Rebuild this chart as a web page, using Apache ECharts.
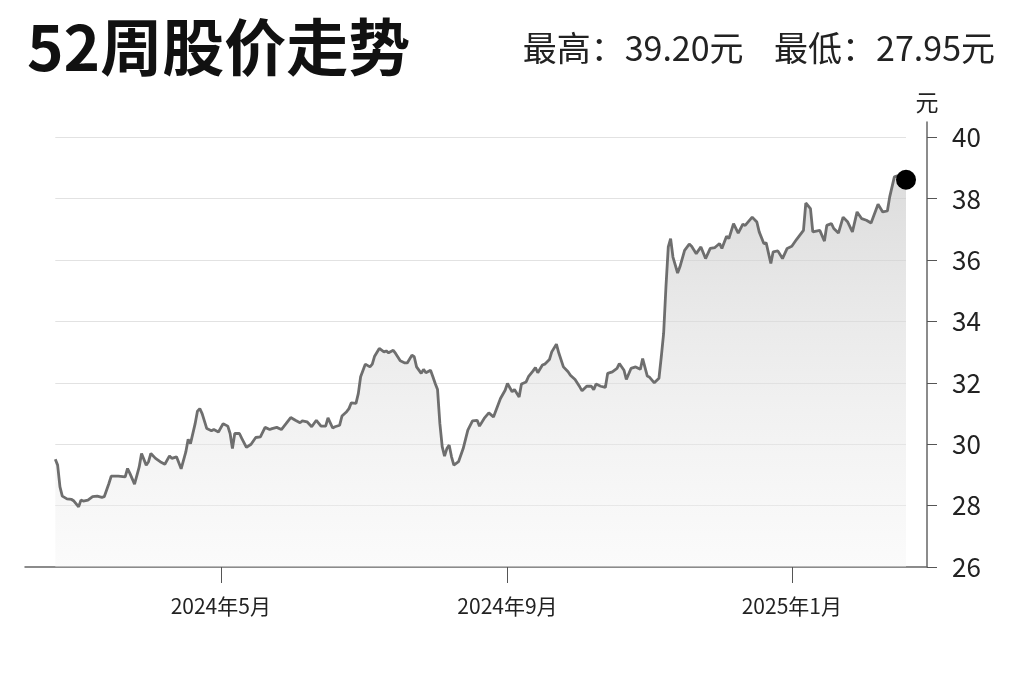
<!DOCTYPE html>
<html>
<head>
<meta charset="utf-8">
<script src="https://cdn.jsdelivr.net/npm/echarts@6/dist/echarts.min.js"></script>
<style>
html,body{margin:0;padding:0;background:#fff;}
#chart{width:1024px;height:682px;}
</style>
</head>
<body>
<div id="chart"></div>
<script>
const titleText = '52周股价走势';
const highPrice = '39.20';
const lowPrice = '27.95';
const unitText = '元';

const dates = [
'2024-02-20','2024-02-21','2024-02-22','2024-02-23','2024-02-25','2024-02-27','2024-02-28','2024-03-01','2024-03-02','2024-03-03',
'2024-03-05','2024-03-07','2024-03-09','2024-03-11','2024-03-12','2024-03-14','2024-03-15','2024-03-18','2024-03-21','2024-03-22',
'2024-03-23','2024-03-25','2024-03-27','2024-03-28','2024-03-30','2024-03-31','2024-04-01','2024-04-03','2024-04-05','2024-04-07',
'2024-04-09','2024-04-10','2024-04-12','2024-04-14','2024-04-16','2024-04-17','2024-04-18','2024-04-20','2024-04-21','2024-04-22',
'2024-04-23','2024-04-25','2024-04-27','2024-04-28','2024-04-30','2024-05-02','2024-05-04','2024-05-05','2024-05-06','2024-05-07',
'2024-05-09','2024-05-10','2024-05-12','2024-05-14','2024-05-16','2024-05-18','2024-05-20','2024-05-22',
'2024-05-23','2024-05-25','2024-05-27','2024-05-29','2024-05-31','2024-06-02','2024-06-04','2024-06-05','2024-06-07','2024-06-09',
'2024-06-11','2024-06-13','2024-06-15','2024-06-16','2024-06-18','2024-06-19','2024-06-21','2024-06-22','2024-06-24','2024-06-25',
'2024-06-26','2024-06-28','2024-06-29','2024-06-30','2024-07-02','2024-07-04','2024-07-05','2024-07-06','2024-07-08','2024-07-10',
'2024-07-11','2024-07-12','2024-07-14','2024-07-15','2024-07-17','2024-07-19','2024-07-20','2024-07-22','2024-07-23','2024-07-24',
'2024-07-26','2024-07-27','2024-07-28','2024-07-30','2024-07-31','2024-08-01','2024-08-02','2024-08-03','2024-08-04','2024-08-05',
'2024-08-06','2024-08-07','2024-08-08','2024-08-09','2024-08-11','2024-08-13','2024-08-15','2024-08-17','2024-08-19','2024-08-20',
'2024-08-22','2024-08-24','2024-08-26',
'2024-08-29','2024-08-31','2024-09-01','2024-09-03','2024-09-04','2024-09-06','2024-09-07','2024-09-09','2024-09-10','2024-09-12',
'2024-09-13','2024-09-14','2024-09-16','2024-09-17','2024-09-19','2024-09-20','2024-09-22','2024-09-23','2024-09-25','2024-09-27',
'2024-09-28','2024-09-30','2024-10-02','2024-10-03','2024-10-05','2024-10-07','2024-10-08','2024-10-09','2024-10-11','2024-10-13',
'2024-10-14','2024-10-16','2024-10-18','2024-10-19','2024-10-21','2024-10-22','2024-10-24','2024-10-26','2024-10-28','2024-10-29',
'2024-10-31','2024-11-01','2024-11-03','2024-11-05','2024-11-06','2024-11-07','2024-11-08','2024-11-09','2024-11-10','2024-11-11',
'2024-11-13','2024-11-14','2024-11-16','2024-11-18','2024-11-19','2024-11-21','2024-11-23','2024-11-25','2024-11-27','2024-11-29',
'2024-12-01','2024-12-02','2024-12-04','2024-12-05','2024-12-07','2024-12-09','2024-12-11','2024-12-12','2024-12-15','2024-12-17',
'2024-12-18','2024-12-20','2024-12-21','2024-12-23','2024-12-24','2024-12-26','2024-12-28','2024-12-30','2025-01-01','2025-01-03',
'2025-01-06','2025-01-07','2025-01-09','2025-01-10','2025-01-13','2025-01-15','2025-01-16','2025-01-18','2025-01-19','2025-01-21',
'2025-01-23','2025-01-25','2025-01-27','2025-01-29','2025-01-31','2025-02-02','2025-02-04','2025-02-07','2025-02-09','2025-02-11',
'2025-02-12','2025-02-14','2025-02-16','2025-02-18','2025-02-19'
];

const prices = [
29.51,29.32,28.61,28.31,28.22,28.20,28.15,27.96,28.18,28.15,
28.18,28.29,28.31,28.27,28.29,28.72,28.96,28.96,28.94,29.21,
29.05,28.70,29.26,29.70,29.32,29.43,29.70,29.54,29.43,29.35,
29.62,29.54,29.59,29.20,29.75,30.16,30.02,30.67,31.08,31.16,
31.00,30.51,30.44,30.48,30.40,30.67,30.59,30.35,29.86,30.35,
30.35,30.19,29.90,30.00,30.22,30.24,30.55,30.48,
30.51,30.55,30.48,30.67,30.87,30.78,30.70,30.76,30.73,30.57,
30.78,30.59,30.59,30.86,30.53,30.57,30.62,30.92,31.06,31.16,
31.35,31.33,31.65,32.20,32.61,32.52,32.61,32.87,33.12,33.01,
33.04,32.98,33.06,32.96,32.72,32.65,32.65,32.90,32.85,32.52,
32.31,32.44,32.33,32.41,32.20,31.98,31.78,30.67,29.92,29.61,
29.86,29.97,29.59,29.32,29.43,29.86,30.46,30.76,30.78,30.59,
30.84,31.02,30.89,
31.49,31.76,31.98,31.71,31.78,31.54,31.96,32.03,32.20,32.39,
32.50,32.33,32.58,32.61,32.76,33.01,33.26,32.98,32.52,32.36,
32.25,32.11,31.87,31.74,31.89,31.89,31.78,31.96,31.89,31.85,
32.31,32.36,32.47,32.63,32.41,32.11,32.47,32.52,32.44,32.79,
32.22,32.18,32.00,32.15,32.85,33.61,35.13,36.43,36.70,36.10,
35.58,35.78,36.32,36.52,36.45,36.21,36.43,36.05,36.38,36.41,
36.54,36.38,36.78,36.70,37.19,36.88,37.17,37.13,37.40,37.24,
36.92,36.54,36.56,35.89,36.27,36.30,36.05,36.38,36.45,36.67,
36.97,37.86,37.68,36.92,36.97,36.62,37.13,37.19,37.03,36.88,
37.40,37.24,36.92,37.57,37.35,37.30,37.21,37.82,37.57,37.60,
38.06,38.71,38.76,38.71,38.62
];

const xTickDates = ['2024-05-01','2024-09-01','2025-01-01'];
const yTicks = [26,28,30,32,34,36,38,40];
const gridValues = [28,30,32,34,36,38,40];
const axisStart = '2024-02-07';
const axisEnd = '2025-02-28';

const FONT = '"Noto Sans CJK SC", "Noto Sans", sans-serif';
const ts = s => +echarts.time.parse(s);

const seriesData = dates.map((d, i) => [d, prices[i]]);
const firstDate = dates[0];
const lastDate = dates[dates.length - 1];
const lastPrice = prices[prices.length - 1];

const chart = echarts.init(document.getElementById('chart'), null, {renderer: 'canvas'});
chart.setOption({
  animation: false,
  backgroundColor: '#ffffff',
  textStyle: {fontFamily: FONT},
  title: [
    {
      text: titleText,
      left: 22, top: 11,
      textStyle: {fontFamily: FONT, fontSize: 62, fontWeight: 'bold', color: '#111111'}
    },
    {
      text: '最高：' + highPrice + '元    最低：' + lowPrice + '元',
      right: 24, top: 26,
      textStyle: {fontFamily: FONT, fontSize: 34, fontWeight: 'normal', color: '#222222'}
    }
  ],
  grid: {left: 25, right: 97, top: 122, bottom: 115, containLabel: false},
  xAxis: {
    type: 'time',
    min: axisStart,
    max: axisEnd,
    axisLine: {show: true, lineStyle: {color: '#666666', width: 1.5}},
    axisTick: {show: true, length: 16, customValues: xTickDates.map(ts), lineStyle: {color: '#555555', width: 1}},
    axisLabel: {
      customValues: xTickDates.map(ts),
      formatter: '{yyyy}年{M}月',
      margin: 29,
      fontSize: 21,
      color: '#222222',
      fontFamily: FONT
    },
    splitLine: {show: false}
  },
  yAxis: {
    type: 'value',
    position: 'right',
    min: 26,
    max: 40.5,
    name: unitText,
    nameLocation: 'end',
    nameGap: 8,
    nameTextStyle: {fontSize: 23, color: '#222222', fontFamily: FONT, align: 'center'},
    axisLine: {show: true, lineStyle: {color: '#666666', width: 1.5}},
    axisTick: {show: true, inside: false, length: 10, customValues: yTicks, lineStyle: {color: '#555555', width: 1}},
    axisLabel: {customValues: yTicks, margin: 25, fontSize: 26, color: '#222222', fontFamily: FONT},
    splitLine: {show: false}
  },
  series: [
    {
      type: 'line',
      data: seriesData,
      showSymbol: false,
      symbol: 'none',
      lineStyle: {color: '#6e6e6e', width: 2.8},
      areaStyle: {
        color: new echarts.graphic.LinearGradient(0, 0, 0, 1, [
          {offset: 0, color: 'rgba(200,200,200,0.9)'},
          {offset: 1, color: 'rgba(245,245,245,0.6)'}
        ])
      },
      silent: true,
      z: 3,
      markLine: {
        silent: true,
        symbol: ['none', 'none'],
        label: {show: false},
        lineStyle: {color: '#e2e2e2', width: 1.2, type: 'solid'},
        data: gridValues.map(v => [{coord: [firstDate, v]}, {coord: [lastDate, v]}]),
        z: 1
      }
    },
    {
      type: 'scatter',
      data: [[lastDate, lastPrice]],
      symbol: 'circle',
      symbolSize: 20,
      itemStyle: {color: '#000000', opacity: 1},
      silent: true,
      z: 5
    }
  ]
});
</script>
</body>
</html>
